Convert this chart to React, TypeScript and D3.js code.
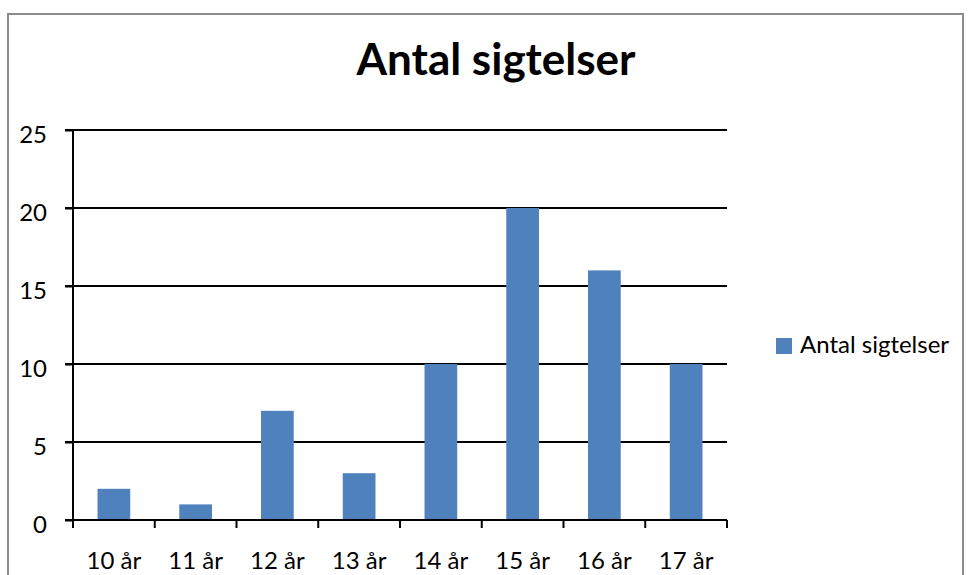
import React, { useEffect, useRef } from 'react';
import * as d3 from 'd3';

const categories = ['10 år', '11 år', '12 år', '13 år', '14 år', '15 år', '16 år', '17 år'];
const values = [2, 1, 7, 3, 10, 20, 16, 10];
const yTicks = [0, 5, 10, 15, 20, 25];
const seriesName = 'Antal sigtelser';
const title = 'Antal sigtelser';

const width = 971;
const height = 575;
const margin = { top: 130, right: 244, bottom: 55, left: 73 };
const font = 'Lato, "Open Sans", sans-serif';

export default function App() {
  const ref = useRef<SVGSVGElement>(null);

  useEffect(() => {
    const svg = d3.select(ref.current);
    svg.selectAll('*').remove();

    const x = d3
      .scaleBand()
      .domain(categories)
      .range([margin.left, width - margin.right])
      .paddingInner(0.6)
      .paddingOuter(0.3);

    const y = d3
      .scaleLinear()
      .domain([0, 25])
      .range([height - margin.bottom, margin.top]);

    // outer frame
    svg
      .append('rect')
      .attr('x', 8)
      .attr('y', 14)
      .attr('width', 955)
      .attr('height', 600)
      .attr('fill', '#fff')
      .attr('stroke', '#8c8c8c')
      .attr('stroke-width', 2);

    // title
    svg
      .append('text')
      .attr('x', 496)
      .attr('y', 75)
      .attr('text-anchor', 'middle')
      .style('font-family', font)
      .style('font-weight', 'bold')
      .style('font-size', '44px')
      .text(title);

    // gridlines
    svg
      .append('g')
      .selectAll('line')
      .data(yTicks.filter((d) => d > 0))
      .enter()
      .append('line')
      .attr('x1', margin.left - 8)
      .attr('x2', width - margin.right)
      .attr('y1', (d) => y(d))
      .attr('y2', (d) => y(d))
      .attr('stroke', '#000')
      .attr('stroke-width', 2);

    // bars
    svg
      .append('g')
      .selectAll('rect')
      .data(values)
      .enter()
      .append('rect')
      .attr('x', (_, i) => x(categories[i]))
      .attr('width', x.bandwidth())
      .attr('y', (d) => y(d))
      .attr('height', (d) => y(0) - y(d))
      .attr('fill', '#4f81bd');

    // y axis
    const yAxis = svg
      .append('g')
      .attr('transform', `translate(${margin.left},0)`)
      .call(d3.axisLeft(y).tickValues(yTicks).tickSize(8).tickPadding(18));
    yAxis.select('.domain').attr('stroke', '#000').attr('stroke-width', 2).attr('d', `M0,${y(25)}V${y(0)}`);
    yAxis.selectAll('.tick line').attr('stroke', '#000').attr('stroke-width', 2);
    yAxis
      .selectAll('.tick text')
      .attr('dy', 12)
      .style('font-family', font)
      .style('font-size', '24px')
      .attr('fill', '#000');

    // x axis
    const xAxis = svg
      .append('g')
      .attr('transform', `translate(0,${y(0)})`)
      .call(d3.axisBottom(x).tickSize(0));
    xAxis.select('.domain').remove();
    xAxis
      .selectAll('.tick text')
      .attr('y', 49)
      .attr('dy', 0)
      .style('font-family', font)
      .style('font-size', '24px')
      .attr('fill', '#000');

    const xStep = (width - margin.right - margin.left) / categories.length;
    svg
      .append('line')
      .attr('x1', margin.left - 8)
      .attr('x2', width - margin.right)
      .attr('y1', y(0))
      .attr('y2', y(0))
      .attr('stroke', '#000')
      .attr('stroke-width', 2);
    svg
      .append('g')
      .selectAll('line')
      .data(d3.range(categories.length + 1))
      .enter()
      .append('line')
      .attr('x1', (d) => margin.left + d * xStep)
      .attr('x2', (d) => margin.left + d * xStep)
      .attr('y1', y(0))
      .attr('y2', y(0) + 8)
      .attr('stroke', '#000')
      .attr('stroke-width', 2);

    // legend
    const legend = svg.append('g').attr('transform', 'translate(776,338)');
    legend.append('rect').attr('width', 16).attr('height', 16).attr('fill', '#4f81bd');
    legend
      .append('text')
      .attr('x', 24)
      .attr('y', 15)
      .style('font-family', font)
      .style('font-size', '24px')
      .text(seriesName);
  }, []);

  return (
    <svg
      ref={ref}
      width={width}
      height={height}
      style={{ position: 'absolute', left: 0, top: 0, background: '#fff' }}
    />
  );
}
